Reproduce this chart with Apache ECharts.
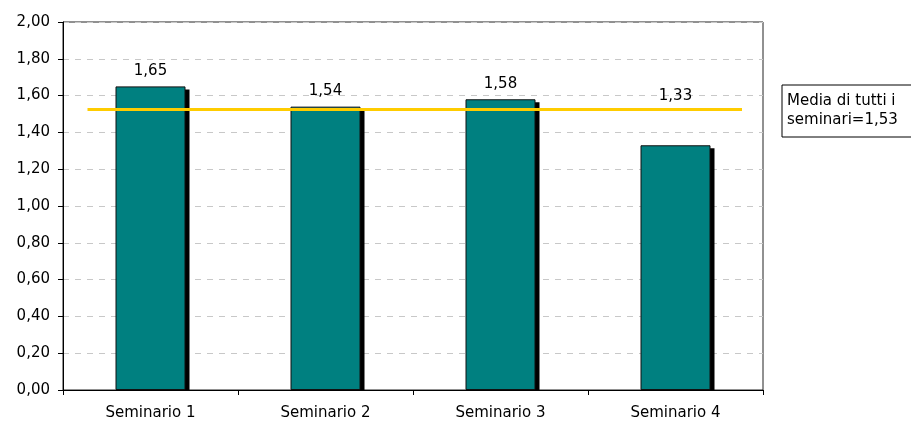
<!DOCTYPE html>
<html><head><meta charset="utf-8">
<script src="https://cdn.jsdelivr.net/npm/echarts@6/dist/echarts.min.js"></script>
<style>html,body{margin:0;padding:0;background:#fff}#c{width:911px;height:425px}</style>
</head><body><div id="c"></div>
<script>
const categories = ['Seminario 1', 'Seminario 2', 'Seminario 3', 'Seminario 4'];
const values = [1.65, 1.54, 1.58, 1.33];
const meanValue = 1.525;
const meanLabel = 'Media di tutti i\nseminari=1,53';
const yTicks = [0, 0.2, 0.4, 0.6, 0.8, 1.0, 1.2, 1.4, 1.6, 1.8, 2.0];
const meanSpan = [0.14, 3.88];

const FONT = 'DejaVu Sans';
const FS = 15;
const fmt = v => v.toFixed(2).replace('.', ',');

const chart = echarts.init(document.getElementById('c'), null, {renderer: 'canvas'});
chart.setOption({
  animation: false,
  backgroundColor: '#fff',
  textStyle: {fontFamily: FONT},
  grid: {left: 63, top: 22, right: 148, bottom: 35, show: true, borderColor: '#222', borderWidth: 1, backgroundColor: 'transparent'},
  legend: {
    left: 782, top: 85,
    orient: 'vertical',
    data: [{name: meanLabel, icon: 'none'}],
    itemWidth: 0, itemHeight: 0, itemGap: 0,
    borderColor: '#000', borderWidth: 1,
    padding: [7, 40, 7, 0],
    textStyle: {fontFamily: FONT, fontSize: FS, color: '#000', lineHeight: 19, padding: 0},
    selectedMode: false
  },
  xAxis: [{
    type: 'category', data: categories,
    axisLine: {lineStyle: {color: '#000'}},
    axisTick: {show: true, alignWithLabel: false, length: 5, lineStyle: {color: '#000'}},
    axisLabel: {fontFamily: FONT, fontSize: FS, color: '#000', margin: 16},
    splitLine: {show: false}
  }, {
    type: 'value', min: 0, max: 4, show: false
  }],
  yAxis: {
    type: 'value', min: yTicks[0], max: yTicks[yTicks.length - 1], interval: 0.2,
    axisLine: {show: true, lineStyle: {color: '#000'}},
    axisTick: {show: true, length: 5, lineStyle: {color: '#000'}},
    axisLabel: {fontFamily: FONT, fontSize: FS, color: '#000', margin: 13, formatter: v => fmt(v)},
    splitLine: {show: true, lineStyle: {color: '#c8c8c8', type: [6, 6]}}
  },
  series: [{
    type: 'custom', xAxisIndex: 0,
    data: values.map((v, i) => [i, v]),
    renderItem: (params, api) => {
      const top = api.coord([api.value(0), api.value(1)]);
      const base = api.coord([api.value(0), 0]);
      const bw = api.size([1, 0])[0] * 0.4;
      return {
        type: 'rect',
        shape: {x: top[0] - bw / 2 + 4, y: top[1] + 3, width: bw, height: base[1] - top[1] - 3},
        style: {fill: '#000'}
      };
    },
    z: 1
  }, {
    type: 'bar', xAxisIndex: 0,
    barWidth: '40%',
    data: values.map((v, i) => i === 3 ? {value: v, label: {offset: [0, -34]}} : v),
    itemStyle: {color: '#008080', borderColor: '#111', borderWidth: 1},
    label: {show: true, position: 'top', distance: 8, fontFamily: FONT, fontSize: FS, color: '#000',
      formatter: p => fmt(p.value)},
    z: 2
  }, {
    name: meanLabel,
    type: 'line', xAxisIndex: 1,
    data: meanSpan.map(x => [x, meanValue]),
    symbol: 'none',
    lineStyle: {color: '#ffcc00', width: 3},
    z: 4
  }]
});
</script></body></html>
